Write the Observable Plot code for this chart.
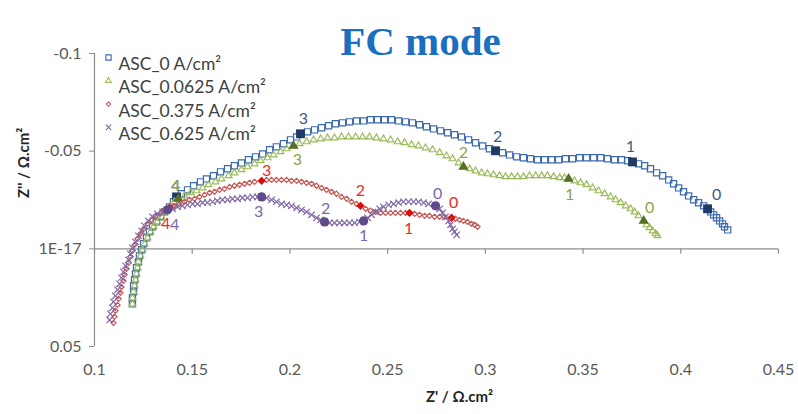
<!DOCTYPE html>
<html>
<head>
<meta charset="utf-8">
<script src="https://cdn.jsdelivr.net/npm/d3@7"></script>
<script src="https://cdn.jsdelivr.net/npm/@observablehq/plot@0.6"></script>
<style>
  html, body { margin: 0; padding: 0; background: #ffffff; }
  #chart { width: 798px; height: 414px; }
</style>
</head>
<body>
<div id="chart"></div>
<script>
// Axis ticks and their printed labels
const xTicks = [0.1, 0.15, 0.2, 0.25, 0.3, 0.35, 0.4, 0.45];
const xTickLabels = ["0.1", "0.15", "0.2", "0.25", "0.3", "0.35", "0.4", "0.45"];
const yTicks = [-0.1, -0.05, 0, 0.05];
const yTickLabels = ["-0.1", "-0.05", "1E-17", "0.05"];

const chartTitle = "FC mode";
const xTitle = "Z' / Ω.cm²";
const yTitle = "Z'' / Ω.cm²";
const seriesNames = ["ASC_0 A/cm²", "ASC_0.0625 A/cm²", "ASC_0.375 A/cm²", "ASC_0.625 A/cm²"];

// Impedance spectra: Z' (real) and Z'' (imaginary), Ω.cm²
const zr0 = [0.1194,0.1194,0.1200,0.1200,0.1205,0.1210,0.1215,0.1225,0.1230,0.1241,0.1251,0.1266,0.1281,0.1297,0.1317,0.1338,0.1358,0.1384,0.1404,0.1420,0.1445,0.1476,0.1507,0.1542,0.1573,0.1609,0.1645,0.1681,0.1716,0.1752,0.1788,0.1824,0.1860,0.1896,0.1931,0.1967,0.2003,0.2034,0.2054,0.2090,0.2126,0.2162,0.2198,0.2233,0.2269,0.2305,0.2341,0.2377,0.2412,0.2448,0.2484,0.2520,0.2556,0.2592,0.2627,0.2663,0.2699,0.2735,0.2771,0.2807,0.2842,0.2878,0.2914,0.2950,0.2986,0.3021,0.3052,0.3088,0.3124,0.3160,0.3195,0.3231,0.3267,0.3303,0.3339,0.3375,0.3410,0.3446,0.3482,0.3518,0.3554,0.3590,0.3625,0.3661,0.3697,0.3728,0.3753,0.3784,0.3815,0.3845,0.3876,0.3907,0.3938,0.3963,0.3989,0.4014,0.4040,0.4066,0.4091,0.4117,0.4137,0.4153,0.4168,0.4183,0.4199,0.4214,0.4224,0.4240];
const zi0 = [0.0282,0.0251,0.0220,0.0189,0.0159,0.0128,0.0097,0.0067,0.0036,0.0005,-0.0026,-0.0056,-0.0087,-0.0113,-0.0138,-0.0164,-0.0189,-0.0215,-0.0241,-0.0266,-0.0282,-0.0302,-0.0323,-0.0343,-0.0358,-0.0374,-0.0394,-0.0410,-0.0425,-0.0440,-0.0456,-0.0471,-0.0486,-0.0507,-0.0522,-0.0538,-0.0558,-0.0573,-0.0589,-0.0599,-0.0609,-0.0620,-0.0630,-0.0640,-0.0645,-0.0650,-0.0655,-0.0655,-0.0661,-0.0661,-0.0661,-0.0661,-0.0655,-0.0650,-0.0645,-0.0635,-0.0625,-0.0614,-0.0604,-0.0594,-0.0584,-0.0573,-0.0558,-0.0543,-0.0527,-0.0512,-0.0502,-0.0492,-0.0481,-0.0471,-0.0466,-0.0461,-0.0456,-0.0456,-0.0456,-0.0456,-0.0461,-0.0461,-0.0466,-0.0466,-0.0466,-0.0466,-0.0461,-0.0456,-0.0456,-0.0451,-0.0445,-0.0435,-0.0425,-0.0410,-0.0389,-0.0374,-0.0353,-0.0333,-0.0312,-0.0292,-0.0271,-0.0251,-0.0236,-0.0220,-0.0205,-0.0189,-0.0174,-0.0159,-0.0143,-0.0128,-0.0113,-0.0097];

const zr1 = [0.1194,0.1194,0.1200,0.1205,0.1210,0.1215,0.1220,0.1225,0.1235,0.1246,0.1256,0.1271,0.1287,0.1302,0.1322,0.1343,0.1363,0.1389,0.1409,0.1430,0.1461,0.1491,0.1522,0.1553,0.1583,0.1619,0.1650,0.1686,0.1716,0.1752,0.1783,0.1819,0.1850,0.1885,0.1916,0.1952,0.1983,0.2018,0.2049,0.2085,0.2121,0.2157,0.2192,0.2228,0.2264,0.2300,0.2336,0.2372,0.2407,0.2443,0.2479,0.2515,0.2551,0.2586,0.2622,0.2658,0.2694,0.2730,0.2766,0.2801,0.2832,0.2863,0.2888,0.2919,0.2950,0.2981,0.3011,0.3042,0.3073,0.3103,0.3134,0.3165,0.3195,0.3226,0.3257,0.3288,0.3318,0.3349,0.3380,0.3405,0.3426,0.3456,0.3487,0.3518,0.3549,0.3579,0.3610,0.3641,0.3666,0.3692,0.3718,0.3743,0.3764,0.3784,0.3810,0.3825,0.3840,0.3856,0.3871,0.3881];
const zi1 = [0.0282,0.0251,0.0220,0.0189,0.0159,0.0128,0.0097,0.0067,0.0036,0.0005,-0.0026,-0.0056,-0.0087,-0.0113,-0.0138,-0.0164,-0.0189,-0.0215,-0.0241,-0.0256,-0.0271,-0.0287,-0.0297,-0.0312,-0.0328,-0.0343,-0.0358,-0.0374,-0.0389,-0.0405,-0.0420,-0.0435,-0.0451,-0.0466,-0.0481,-0.0497,-0.0512,-0.0527,-0.0538,-0.0548,-0.0558,-0.0563,-0.0568,-0.0568,-0.0573,-0.0573,-0.0573,-0.0573,-0.0573,-0.0568,-0.0563,-0.0558,-0.0548,-0.0543,-0.0533,-0.0527,-0.0517,-0.0507,-0.0492,-0.0476,-0.0461,-0.0440,-0.0420,-0.0410,-0.0399,-0.0389,-0.0384,-0.0379,-0.0374,-0.0369,-0.0369,-0.0369,-0.0369,-0.0374,-0.0374,-0.0374,-0.0374,-0.0369,-0.0364,-0.0364,-0.0358,-0.0348,-0.0338,-0.0328,-0.0312,-0.0297,-0.0282,-0.0266,-0.0251,-0.0236,-0.0220,-0.0205,-0.0189,-0.0169,-0.0143,-0.0123,-0.0108,-0.0092,-0.0077,-0.0067];

const zr2 = [0.1097,0.1102,0.1107,0.1118,0.1123,0.1133,0.1138,0.1148,0.1154,0.1164,0.1174,0.1184,0.1194,0.1205,0.1220,0.1235,0.1251,0.1271,0.1292,0.1312,0.1338,0.1358,0.1384,0.1409,0.1435,0.1461,0.1486,0.1512,0.1537,0.1563,0.1589,0.1614,0.1640,0.1665,0.1691,0.1716,0.1742,0.1768,0.1793,0.1819,0.1855,0.1880,0.1906,0.1931,0.1957,0.1983,0.2008,0.2034,0.2059,0.2085,0.2111,0.2136,0.2162,0.2187,0.2213,0.2238,0.2264,0.2290,0.2315,0.2341,0.2361,0.2387,0.2412,0.2438,0.2464,0.2489,0.2515,0.2540,0.2566,0.2592,0.2612,0.2638,0.2663,0.2689,0.2714,0.2740,0.2766,0.2791,0.2827,0.2847,0.2868,0.2888,0.2909,0.2929,0.2945,0.2960];
const zi2 = [0.0379,0.0348,0.0317,0.0287,0.0256,0.0225,0.0195,0.0164,0.0133,0.0102,0.0072,0.0041,0.0010,-0.0020,-0.0051,-0.0077,-0.0102,-0.0128,-0.0148,-0.0169,-0.0184,-0.0200,-0.0210,-0.0220,-0.0230,-0.0241,-0.0251,-0.0256,-0.0266,-0.0276,-0.0287,-0.0292,-0.0302,-0.0307,-0.0317,-0.0323,-0.0328,-0.0333,-0.0338,-0.0343,-0.0348,-0.0353,-0.0353,-0.0353,-0.0353,-0.0353,-0.0348,-0.0348,-0.0343,-0.0338,-0.0333,-0.0323,-0.0312,-0.0302,-0.0292,-0.0282,-0.0266,-0.0256,-0.0241,-0.0230,-0.0220,-0.0205,-0.0195,-0.0189,-0.0184,-0.0184,-0.0184,-0.0184,-0.0184,-0.0184,-0.0184,-0.0179,-0.0174,-0.0169,-0.0169,-0.0164,-0.0164,-0.0164,-0.0159,-0.0154,-0.0148,-0.0143,-0.0138,-0.0128,-0.0123,-0.0113];

const zr3 = [0.1077,0.1082,0.1092,0.1097,0.1107,0.1118,0.1128,0.1138,0.1148,0.1159,0.1174,0.1184,0.1194,0.1210,0.1225,0.1241,0.1256,0.1276,0.1297,0.1322,0.1348,0.1374,0.1399,0.1425,0.1450,0.1476,0.1502,0.1527,0.1553,0.1578,0.1604,0.1629,0.1655,0.1681,0.1706,0.1732,0.1757,0.1783,0.1809,0.1834,0.1855,0.1880,0.1906,0.1931,0.1957,0.1983,0.2008,0.2034,0.2059,0.2085,0.2111,0.2136,0.2157,0.2177,0.2203,0.2228,0.2254,0.2279,0.2305,0.2331,0.2356,0.2377,0.2397,0.2418,0.2438,0.2459,0.2479,0.2505,0.2530,0.2556,0.2581,0.2607,0.2633,0.2658,0.2684,0.2709,0.2745,0.2766,0.2781,0.2796,0.2812,0.2822,0.2832,0.2842,0.2853];
const zi3 = [0.0364,0.0333,0.0302,0.0271,0.0241,0.0210,0.0179,0.0148,0.0118,0.0087,0.0056,0.0026,-0.0005,-0.0036,-0.0067,-0.0092,-0.0118,-0.0143,-0.0164,-0.0179,-0.0189,-0.0200,-0.0205,-0.0215,-0.0220,-0.0225,-0.0230,-0.0230,-0.0236,-0.0236,-0.0241,-0.0246,-0.0251,-0.0251,-0.0256,-0.0256,-0.0261,-0.0261,-0.0266,-0.0266,-0.0266,-0.0261,-0.0251,-0.0241,-0.0230,-0.0225,-0.0220,-0.0210,-0.0200,-0.0189,-0.0174,-0.0159,-0.0148,-0.0138,-0.0133,-0.0133,-0.0133,-0.0133,-0.0133,-0.0133,-0.0138,-0.0143,-0.0159,-0.0174,-0.0189,-0.0205,-0.0215,-0.0225,-0.0230,-0.0236,-0.0241,-0.0241,-0.0241,-0.0241,-0.0236,-0.0230,-0.0220,-0.0205,-0.0184,-0.0164,-0.0143,-0.0123,-0.0102,-0.0087,-0.0072];

// Highlighted measurement points of each spectrum and their labels
const pointLabels = ["4", "3", "2", "1", "0"];
const marked0 = [19, 38, 66, 86, 100];
const marked1 = [19, 37, 62, 80, 94];
const marked2 = [22, 40, 60, 70, 78];
const marked3 = [21, 40, 53, 61, 76];

// Styling per series (label offsets in pixels)
const styles = [
  {symbol: "square",   r: 3.5, stroke: "#3d69ae", markSymbol: "square",   markR: 5.0, markFill: "#1f3a68", labelFill: "#3d5a82",
   offsets: [[-1, -11], [3, -15], [2, -14], [-2, -15], [9, -14]]},
  {symbol: "triangle", r: 2.5, stroke: "#9bbb59", markSymbol: "triangle", markR: 3.8, markFill: "#55702a", labelFill: "#8aa446",
   offsets: [[-3, -13], [4, 14], [0, -14], [1, 16], [6, -13]]},
  {symbol: "diamond2", r: 2.3, stroke: "#c45856", markSymbol: "diamond2", markR: 3.8, markFill: "#dd0d0d", labelFill: "#ec2a22",
   offsets: [[-4, 16], [5, -10], [0, -15], [-1, 16], [2, -15]]},
  {symbol: "times",    r: 3.0, stroke: "#8068a4", markSymbol: "circle",   markR: 4.6, markFill: "#5f4b8b", labelFill: "#7c68a6",
   offsets: [[7, 15], [-3, 15], [1, -13], [0, 15], [2, -12]]}
];

const spectra = [[zr0, zi0, marked0], [zr1, zi1, marked1], [zr2, zi2, marked2], [zr3, zi3, marked3]]
  .map(([zr, zi, marked], s) => ({
    name: seriesNames[s],
    rows: zr.map((x, i) => ({x, y: zi[i]})),
    marked,
    style: styles[s]
  }));

const axisGray = "#8c8c8c";
const textGray = "#595959";
const font = "Lato";

// short downward tick drawn on the Z'' = 0 axis line
const tickDown = {draw(ctx) { ctx.moveTo(0, 0); ctx.lineTo(0, 5); }};

const marks = [
  // axis lines
  Plot.ruleX([xTicks[0]], {stroke: axisGray, strokeWidth: 1.2}),
  Plot.ruleY([0], {stroke: axisGray, strokeWidth: 1.2}),
  Plot.dot(xTicks, {x: d => d, y: () => 0, symbol: tickDown, stroke: axisGray, strokeWidth: 1.2}),
  Plot.axisY({ticks: yTicks, tickFormat: d => yTickLabels[yTicks.indexOf(d)], tickSize: 5, tickPadding: 8,
    stroke: axisGray, fill: textGray, fontSize: 16, label: null}),
  Plot.axisX({ticks: xTicks, tickFormat: d => xTickLabels[xTicks.indexOf(d)], tickSize: 0, tickPadding: 17,
    fill: textGray, fontSize: 16, label: null}),
  // axis titles and chart title
  Plot.text([xTitle], {frameAnchor: "bottom", text: d => d, dx: 23, dy: 55, fontSize: 15, fontWeight: "bold", fill: "#262626"}),
  Plot.text([yTitle], {frameAnchor: "left", text: d => d, rotate: -90, dx: -70, dy: -2, fontSize: 15, fontWeight: "bold", fill: "#262626"}),
  Plot.text([chartTitle], {frameAnchor: "top", text: d => d, dx: -16, dy: -28, fontSize: 41, fontWeight: "bold",
    fontFamily: "Liberation Serif", fill: "#1a6fc0"})
];

// spectra: open markers, then highlighted points
for (const sp of spectra) {
  const st = sp.style;
  marks.push(Plot.dot(sp.rows, {x: "x", y: "y", symbol: st.symbol, r: st.r, stroke: st.stroke, fill: "none", strokeWidth: 1.2}));
  marks.push(Plot.dot(sp.marked.map(i => sp.rows[i]), {x: "x", y: "y", symbol: st.markSymbol, r: st.markR, fill: st.markFill}));
}

// numeric labels beside highlighted points
for (const sp of spectra) {
  const st = sp.style;
  sp.marked.forEach((idx, j) => {
    marks.push(Plot.text([sp.rows[idx]], {x: "x", y: "y", text: () => pointLabels[j], dx: st.offsets[j][0], dy: st.offsets[j][1],
      fill: st.labelFill, fontSize: 16}));
  });
}

// legend in the top-left corner of the plot area
spectra.forEach((sp, s) => {
  const st = sp.style;
  marks.push(Plot.dot([0], {frameAnchor: "top-left", dx: 14, dy: 4 + s * 23.3, symbol: st.symbol, r: st.r * 0.85,
    stroke: st.stroke, fill: "none", strokeWidth: 1.1}));
  marks.push(Plot.text([sp.name], {frameAnchor: "top-left", dx: 24, dy: 4 + s * 23.3, text: d => d, textAnchor: "start",
    fill: "#404040", fontSize: 17.5}));
});

const chart = Plot.plot({
  width: 798,
  height: 414,
  marginLeft: 94,
  marginRight: 20,
  marginTop: 53,
  marginBottom: 68,
  x: {domain: [xTicks[0], xTicks[xTicks.length - 1]]},
  y: {domain: [yTicks[yTicks.length - 1], yTicks[0]]},
  style: {fontFamily: font, fontSize: "16px", background: "#ffffff", color: textGray},
  marks
});

document.getElementById("chart").appendChild(chart);
</script>
</body>
</html>
